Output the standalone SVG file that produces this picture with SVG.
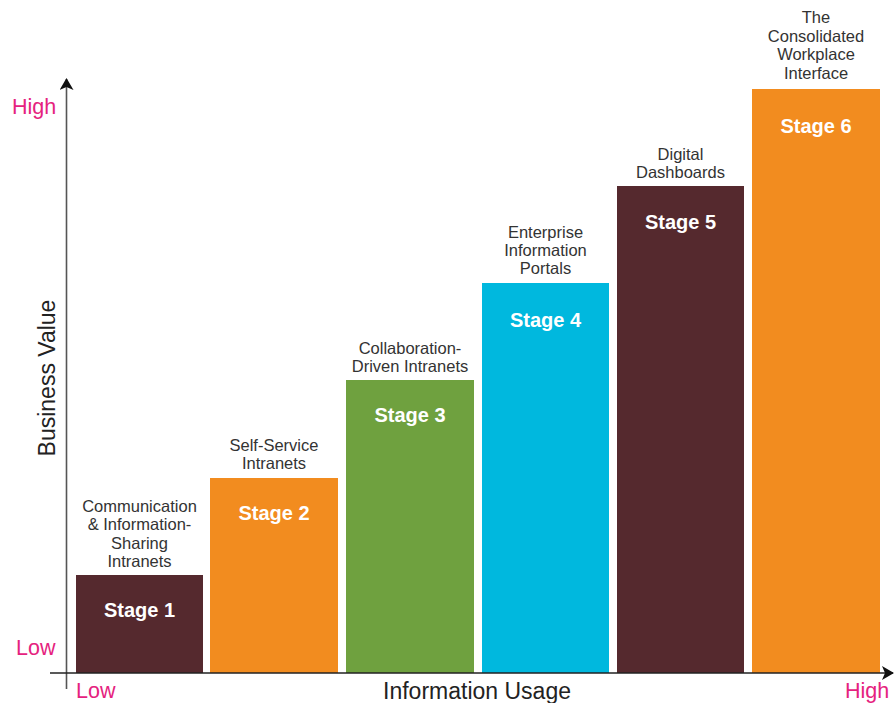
<svg xmlns="http://www.w3.org/2000/svg" width="894" height="703" viewBox="0 0 894 703">
<style>
.lbl{font-family:"Liberation Sans",Arial,sans-serif;font-size:16.5px;fill:#333;text-anchor:middle}
.stg{font-family:"Liberation Sans",Arial,sans-serif;font-size:20px;font-weight:bold;fill:#fff;text-anchor:middle}
.pink{font-family:"Liberation Sans",Arial,sans-serif;font-size:21.5px;fill:#E5227E}
.ax{font-family:"Liberation Sans",Arial,sans-serif;font-size:23px;fill:#222;text-anchor:middle}
.maroon{fill:#55292E}.orange{fill:#F28C1F}.green{fill:#6FA13F}.cyan{fill:#00B8DE}
</style>
<defs>
<marker id="arrB" viewBox="0 0 12 14" refX="11" refY="7" markerWidth="12" markerHeight="14" markerUnits="userSpaceOnUse" orient="auto">
<path d="M0,0 L12,7 L0,14 L3,7 Z" fill="#111"/>
</marker>
</defs>
<rect width="894" height="703" fill="#fff"/>
<g id="stage1">
<rect class="maroon" x="76" y="575" width="127" height="98"/>
<text class="lbl" x="139.5" y="512">Communication</text>
<text class="lbl" x="139.5" y="530">&amp; Information-</text>
<text class="lbl" x="139.5" y="549">Sharing</text>
<text class="lbl" x="139.5" y="567">Intranets</text>
<text class="stg" x="139.5" y="617">Stage 1</text>
</g>
<g id="stage2">
<rect class="orange" x="210" y="478" width="128" height="195"/>
<text class="lbl" x="274" y="451">Self-Service</text>
<text class="lbl" x="274" y="469">Intranets</text>
<text class="stg" x="274" y="520">Stage 2</text>
</g>
<g id="stage3">
<rect class="green" x="346" y="380" width="128" height="293"/>
<text class="lbl" x="410" y="354">Collaboration-</text>
<text class="lbl" x="410" y="372">Driven Intranets</text>
<text class="stg" x="410" y="422">Stage 3</text>
</g>
<g id="stage4">
<rect class="cyan" x="482" y="283" width="127" height="390"/>
<text class="lbl" x="545.5" y="238">Enterprise</text>
<text class="lbl" x="545.5" y="256">Information</text>
<text class="lbl" x="545.5" y="274">Portals</text>
<text class="stg" x="545.5" y="327">Stage 4</text>
</g>
<g id="stage5">
<rect class="maroon" x="617" y="186" width="127" height="487"/>
<text class="lbl" x="680.5" y="160">Digital</text>
<text class="lbl" x="680.5" y="178">Dashboards</text>
<text class="stg" x="680.5" y="229">Stage 5</text>
</g>
<g id="stage6">
<rect class="orange" x="752" y="89" width="128" height="584"/>
<text class="lbl" x="816" y="23">The</text>
<text class="lbl" x="816" y="42">Consolidated</text>
<text class="lbl" x="816" y="60">Workplace</text>
<text class="lbl" x="816" y="79">Interface</text>
<text class="stg" x="816" y="133">Stage 6</text>
</g>
<g id="axes">
<line x1="66.5" y1="689" x2="66.5" y2="79" stroke="#555" stroke-width="1.6" marker-end="url(#arrB)"/>
<line x1="50" y1="673" x2="893" y2="673" stroke="#222" stroke-width="1.6" marker-end="url(#arrB)"/>
</g>
<g id="axis-labels">
<text class="pink" x="12" y="114">High</text>
<text class="pink" x="16" y="655">Low</text>
<text class="pink" x="76" y="698">Low</text>
<text class="pink" x="845" y="698">High</text>
<text class="ax" x="477" y="699">Information Usage</text>
<text class="ax" transform="translate(55,378) rotate(-90)" x="0" y="0">Business Value</text>
</g>
</svg>
